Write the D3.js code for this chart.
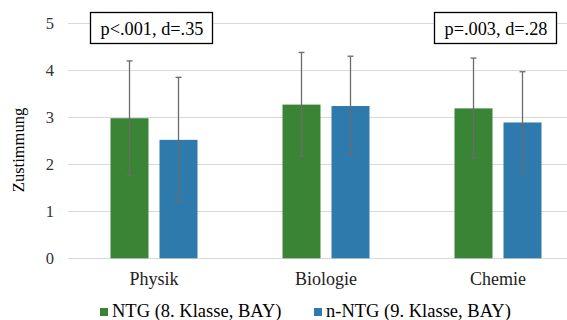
<!DOCTYPE html>
<html>
<head>
    <meta http-equiv="Content-Type" content="text/html;charset=utf-8">
    <title>Zustimmung nach Fach</title>
    <script type="text/javascript" src="https://d3js.org/d3.v7.min.js"></script>
    <style>
        html, body {
            margin: 0;
            padding: 0;
            background: #fff;
        }
        .grid line {
            stroke: #d9d9d9;
            stroke-width: 1px;
            shape-rendering: crispEdges;
        }
        .errBar {
            stroke: #6b6b6b;
            stroke-width: 1.3px;
        }
    </style>
</head>
<body>
<script type="text/javascript">

    // data
    var categories = ["Physik", "Biologie", "Chemie"];
    var seriesNames = ["NTG (8. Klasse, BAY)", "n-NTG (9. Klasse, BAY)"];
    var ntgMeans = [2.98, 3.27, 3.19];
    var ntgLow = [1.76, 2.17, 2.13];
    var ntgHigh = [4.20, 4.38, 4.26];
    var nntgMeans = [2.52, 3.24, 2.89];
    var nntgLow = [1.19, 2.19, 1.83];
    var nntgHigh = [3.85, 4.30, 3.97];
    var yTicks = [0, 1, 2, 3, 4, 5];
    var notes = [
        {category: "Physik", label: "p<.001, d=.35"},
        {category: "Chemie", label: "p=.003, d=.28"}
    ];

    var colorTable = ["#3a8535", "#2e7aad"];
    var serif = "Liberation Serif";

    var width = 567, height = 320;
    var plotLeft = 68, plotRight = 584, plotTop = 23.3, plotBottom = 258.3;

    var rows = [];
    categories.forEach(function (c, i) {
        rows.push({cat: c, s: 0, mean: ntgMeans[i], lo: ntgLow[i], hi: ntgHigh[i]});
        rows.push({cat: c, s: 1, mean: nntgMeans[i], lo: nntgLow[i], hi: nntgHigh[i]});
    });

    var x0 = d3.scaleBand().domain(categories).range([plotLeft, plotRight]);
    var groupW = 87;
    var x1 = d3.scaleBand().domain([0, 1])
        .range([(x0.bandwidth() - groupW) / 2, (x0.bandwidth() + groupW) / 2])
        .paddingInner(0.2245);
    var y = d3.scaleLinear().domain([0, 5]).range([plotBottom, plotTop]);

    var svg = d3.select("body").append("svg")
        .attr("width", width).attr("height", height);

    // gridlines
    svg.append("g").attr("class", "grid")
        .selectAll("line").data(yTicks).enter()
        .append("line")
        .attr("x1", plotLeft).attr("x2", plotRight)
        .attr("y1", function (d) { return Math.round(y(d)) + 0.5; })
        .attr("y2", function (d) { return Math.round(y(d)) + 0.5; });

    // y axis labels
    var yAxis = d3.axisLeft(y).tickValues(yTicks).tickFormat(d3.format("d")).tickSize(0).tickPadding(14);
    var yG = svg.append("g").attr("transform", "translate(" + plotLeft + ",0)").call(yAxis);
    yG.select(".domain").remove();
    yG.selectAll("text").attr("font-family", serif).attr("font-size", 16.5).attr("fill", "#333");

    svg.append("text")
        .attr("transform", "translate(24," + 150 + ") rotate(-90)")
        .attr("text-anchor", "middle")
        .attr("font-family", serif).attr("font-size", 16.5)
        .text("Zustimmung");

    // bars
    svg.append("g").selectAll("rect").data(rows).enter()
        .append("rect")
        .attr("x", function (d) { return x0(d.cat) + x1(d.s); })
        .attr("y", function (d) { return y(d.mean); })
        .attr("width", x1.bandwidth())
        .attr("height", function (d) { return y(0) - y(d.mean); })
        .attr("fill", function (d) { return colorTable[d.s]; });

    // error bars
    var err = svg.append("g").selectAll("g").data(rows).enter().append("g")
        .attr("class", "errBar")
        .attr("transform", function (d) {
            return "translate(" + (x0(d.cat) + x1(d.s) + x1.bandwidth() / 2) + ",0)";
        });
    err.append("line").attr("x1", 0).attr("x2", 0)
        .attr("y1", function (d) { return y(d.lo); })
        .attr("y2", function (d) { return y(d.hi); });
    err.append("line").attr("x1", -3).attr("x2", 3)
        .attr("y1", function (d) { return y(d.lo); })
        .attr("y2", function (d) { return y(d.lo); });
    err.append("line").attr("x1", -3).attr("x2", 3)
        .attr("y1", function (d) { return y(d.hi); })
        .attr("y2", function (d) { return y(d.hi); });

    // category labels
    var xAxis = d3.axisBottom(x0).tickSize(0).tickPadding(14);
    var xG = svg.append("g").attr("transform", "translate(0," + plotBottom + ")").call(xAxis);
    xG.select(".domain").remove();
    xG.selectAll("text").attr("font-family", serif).attr("font-size", 18).attr("fill", "#222");

    // annotation boxes
    var noteG = svg.append("g").selectAll("g").data(notes).enter().append("g")
        .attr("transform", function (d) {
            return "translate(" + (x0(d.category) + x0.bandwidth() / 2 - 2) + ",0)";
        });
    noteG.append("rect")
        .attr("x", -61.5).attr("y", 12.5)
        .attr("width", 122).attr("height", 31)
        .attr("fill", "#fff").attr("stroke", "#000").attr("stroke-width", 1.3);
    noteG.append("text")
        .attr("text-anchor", "middle")
        .attr("y", 35)
        .attr("font-family", serif).attr("font-size", 18.3)
        .text(function (d) { return d.label; });

    // legend
    var legendX = [100, 314];
    var legend = svg.append("g").selectAll("g").data(seriesNames).enter().append("g")
        .attr("transform", function (d, i) { return "translate(" + legendX[i] + ",308)"; });
    legend.append("rect").attr("width", 8).attr("height", 8)
        .attr("fill", function (d, i) { return colorTable[i]; });
    legend.append("text").attr("x", 12).attr("y", 9)
        .attr("font-family", serif).attr("font-size", 18.5)
        .text(function (d) { return d; });

</script>
</body>
</html>
